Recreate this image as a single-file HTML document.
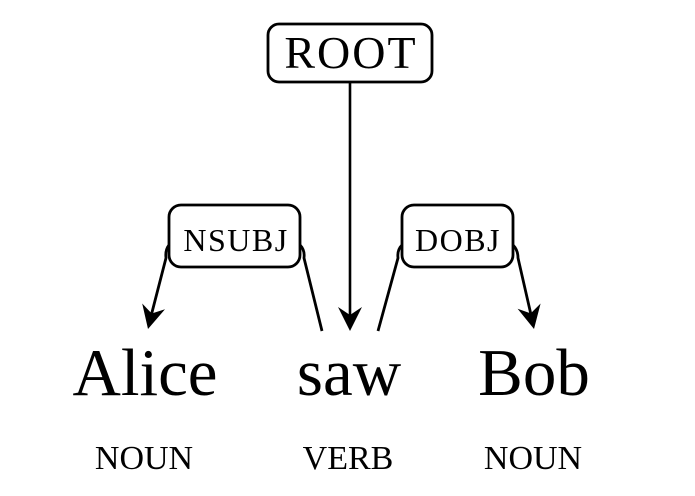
<!DOCTYPE html>
<html>
<head>
<meta charset="utf-8">
<style>
  html, body { margin: 0; padding: 0; background: #fff; }
  body { width: 695px; height: 496px; overflow: hidden; }
  svg { display: block; }
  text { font-family: "Liberation Serif", "DejaVu Serif", serif; fill: #000; }
</style>
</head>
<body>
<svg width="695" height="496" viewBox="0 0 695 496" xmlns="http://www.w3.org/2000/svg">
  <rect x="0" y="0" width="695" height="496" fill="#fff"/>

  <!-- ROOT box -->
  <rect x="268" y="24" width="164" height="58" rx="11" ry="11" fill="#fff" stroke="#000" stroke-width="2.8"/>
  <text x="351" y="68" font-size="46" text-anchor="middle" letter-spacing="2">ROOT</text>

  <!-- ROOT arrow -->
  <line x1="350" y1="82" x2="350" y2="316" stroke="#000" stroke-width="2.6"/>
  <polygon points="350,331 338,307 350,315 362,307" fill="#000"/>

  <!-- NSUBJ box -->
  <rect x="169" y="205" width="131" height="62" rx="12" ry="12" fill="#fff" stroke="#000" stroke-width="2.8"/>
  <text x="236" y="251" font-size="32" text-anchor="middle" letter-spacing="1.5">NSUBJ</text>

  <!-- NSUBJ left arrow -->
  <path d="M169,245 Q165,250 166,258 L151.7,313.5" fill="none" stroke="#000" stroke-width="2.8"/>
  <polygon points="148,329 142.2,303.5 151.7,313.5 165.0,309.3" fill="#000"/>

  <!-- NSUBJ right line -->
  <path d="M300,245 Q305,250 304,258 L322,331" fill="none" stroke="#000" stroke-width="2.8"/>

  <!-- DOBJ box -->
  <rect x="402" y="205" width="111" height="62" rx="12" ry="12" fill="#fff" stroke="#000" stroke-width="2.8"/>
  <text x="458" y="251" font-size="32" text-anchor="middle" letter-spacing="1.5">DOBJ</text>

  <!-- DOBJ left line -->
  <path d="M402,245 Q397,250 398,258 L378,331" fill="none" stroke="#000" stroke-width="2.8"/>

  <!-- DOBJ right arrow -->
  <path d="M513,245 Q518,250 518,258 L530.7,313.4" fill="none" stroke="#000" stroke-width="2.8"/>
  <polygon points="534,329 517.6,308.8 530.7,313.4 540.6,303.5" fill="#000"/>

  <!-- Words -->
  <text x="145" y="395" font-size="67" text-anchor="middle">Alice</text>
  <text x="349" y="395" font-size="67" text-anchor="middle">saw</text>
  <text x="534" y="395" font-size="67" text-anchor="middle">Bob</text>

  <!-- POS tags -->
  <text x="144" y="469" font-size="34" text-anchor="middle">NOUN</text>
  <text x="348" y="469" font-size="34" text-anchor="middle">VERB</text>
  <text x="533" y="469" font-size="34" text-anchor="middle">NOUN</text>
</svg>
</body>
</html>
